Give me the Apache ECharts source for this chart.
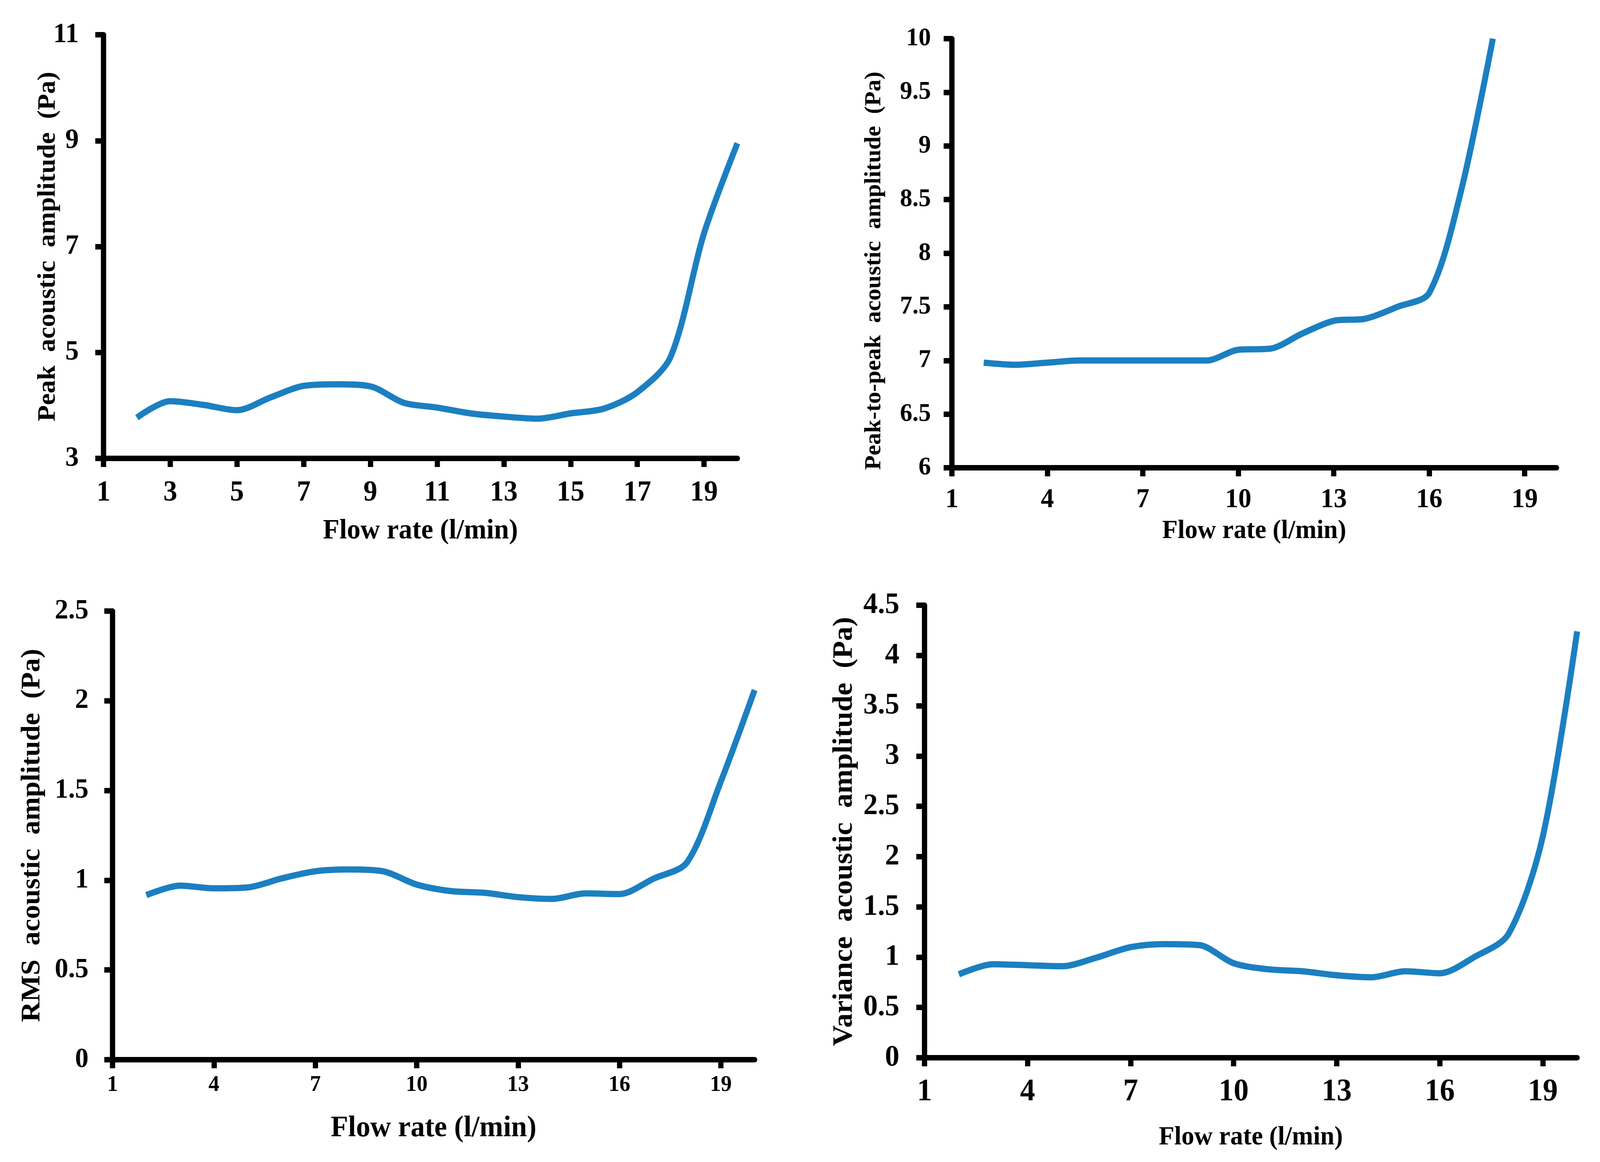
<!DOCTYPE html>
<html>
<head>
<meta charset="utf-8">
<script src="https://cdn.jsdelivr.net/npm/echarts@6/dist/echarts.min.js"></script>
<style>
html,body{margin:0;padding:0;background:#fff;overflow:hidden;}
#chart{width:4266px;height:2976px;transform-origin:0 0;}
</style>
</head>
<body>
<div id="chart"></div>
<script>
// ---- data ----
const flowRate = [2,3,4,5,6,7,8,9,10,11,12,13,14,15,16,17,18,19,20];
const peakAmp = [3.77,4.08,4.01,3.91,4.15,4.37,4.40,4.36,4.05,3.96,3.85,3.79,3.75,3.85,3.94,4.25,4.92,7.25,8.95];
const flowRateP2P = [2,3,4,5,6,7,8,9,10,11,12,13,14,15,16,17,18];
const p2pAmp = [6.98,6.96,6.98,7.00,7.00,7.00,7.00,7.00,7.10,7.11,7.25,7.37,7.39,7.50,7.63,8.58,10.0];
const rmsAmp = [0.917,0.97,0.955,0.96,1.01,1.05,1.06,1.05,0.976,0.94,0.93,0.906,0.896,0.927,0.923,1.008,1.10,1.55,2.06];
const varAmp = [0.83,0.93,0.92,0.91,0.995,1.10,1.13,1.12,0.94,0.88,0.86,0.82,0.80,0.86,0.84,1.00,1.23,2.20,4.24];

const xTicksP1 = [1,3,5,7,9,11,13,15,17,19];
const xTicks3 = [1,4,7,10,13,16,19];
const yTicksP1 = [3,5,7,9,11];
const yTicksP2 = [6,6.5,7,7.5,8,8.5,9,9.5,10];
const yTicksP3 = [0,0.5,1,1.5,2,2.5];
const yTicksP4 = [0,0.5,1,1.5,2,2.5,3,3.5,4,4.5];

const titles = {
  x: 'Flow rate (l/min)',
  y1: 'Peak  acoustic  amplitude  (Pa)',
  y2: 'Peak-to-peak  acoustic  amplitude  (Pa)',
  y3: 'RMS  acoustic  amplitude  (Pa)',
  y4: 'Variance  acoustic  amplitude  (Pa)'
};

const FONT = '"Liberation Serif", "Times New Roman", serif';
const LINE_COLOR = '#1b7fc1';

function pairs(xs, ys){ return xs.map((x,i)=>[x, ys[i]]); }

function xAxis(idx, ticks, labelSize, labelMargin, nameSize, nameGap){
  return {
    type:'value', gridIndex: idx, min:1, max:20,
    name: titles.x, nameLocation:'middle', nameGap: nameGap,
    nameTextStyle:{fontFamily:FONT, fontWeight:'bold', fontSize:nameSize, color:'#000'},
    axisLine:{show:true, lineStyle:{color:'#000', width:14}},
    axisTick:{show:true, length:22, lineStyle:{color:'#000', width:14}, customValues: ticks},
    axisLabel:{fontFamily:FONT, fontWeight:'bold', fontSize:labelSize, color:'#000', margin:labelMargin, customValues: ticks},
    splitLine:{show:false}
  };
}
function yAxis(idx, min, max, ticks, labelSize, labelMargin, nameKey, nameSize, nameGap, namePad, noMove){
  const ax = {
    type:'value', gridIndex: idx, min:min, max:max,
    name: titles[nameKey], nameLocation:'middle', nameGap: nameGap,
    nameTextStyle:{fontFamily:FONT, fontWeight:'bold', fontSize:nameSize, color:'#000', padding: namePad || 0},
    axisLine:{show:true, lineStyle:{color:'#000', width:14}},
    axisTick:{show:true, length:22, lineStyle:{color:'#000', width:14}, customValues: ticks},
    axisLabel:{fontFamily:FONT, fontWeight:'bold', fontSize:labelSize, color:'#000', margin:labelMargin, customValues: ticks},
    splitLine:{show:false}
  };
  if (noMove) ax.nameMoveOverlap = false;
  return ax;
}
function series(idx, data){
  return {
    type:'line', xAxisIndex: idx, yAxisIndex: idx, data: data,
    smooth: 0.3, showSymbol:false, symbol:'none', clip:true,
    lineStyle:{color: LINE_COLOR, width:16}
  };
}

const W = 4266, H = 2976;
function grid(l, t, r, b){ return {left:l, top:t, width:r-l, height:b-t, containLabel:false}; }

const option = {
  backgroundColor:'#fff',
  animation:false,
  grid:[
    grid(276, 89, 1966, 1174),
    grid(2538, 99, 4150, 1198),
    grid(300, 1565, 2012, 2714),
    grid(2465, 1550, 4205, 2709)
  ],
  xAxis:[
    xAxis(0, xTicksP1, 74, 52, 72, 150),
    xAxis(1, xTicks3, 70, 48, 68, 128),
    xAxis(2, xTicks3, 58, 36, 76, 138),
    xAxis(3, xTicks3, 80, 48, 68, 170)
  ],
  yAxis:[
    yAxis(0, 3, 11, yTicksP1, 72, 66, 'y1', 68, 114, 0, true),
    yAxis(1, 6, 10, yTicksP2, 66, 56, 'y2', 61, 176, [0, 90, 0, 0]),
    yAxis(2, 0, 2.5, yTicksP3, 72, 64, 'y3', 72, 178),
    yAxis(3, 0, 4.5, yTicksP4, 77, 67, 'y4', 74, 176)
  ],
  series:[
    series(0, pairs(flowRate, peakAmp)),
    series(1, pairs(flowRateP2P, p2pAmp)),
    series(2, pairs(flowRate, rmsAmp)),
    series(3, pairs(flowRate, varAmp))
  ]
};

// The browser viewport may be narrower than the 4266px design width; fit it.
const el = document.getElementById('chart');
const sx = Math.min(1, (window.innerWidth || W) / W);
const sy = Math.min(1, (window.innerHeight || H) / H);
if (sx < 1 || sy < 1) { el.style.transform = 'scale(' + sx + ',' + sy + ')'; }

const chart = echarts.init(el, null, {renderer:'canvas', width:W, height:H});
chart.setOption(option);
</script>
</body>
</html>
